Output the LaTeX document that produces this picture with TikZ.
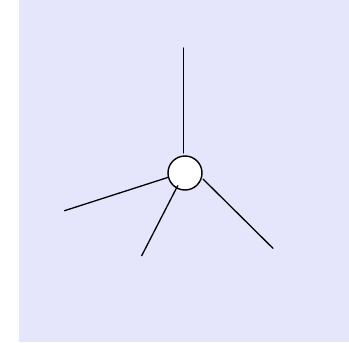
\documentclass[tikz,border=0pt]{standalone}
\definecolor{lavbg}{HTML}{E5E5FB}
\tikzset{hub/.style={circle,draw,line width=1.4pt,fill=white,minimum size=34pt,inner sep=0pt},
	spoke/.style={line width=1.3pt}}
\begin{document}
\begin{tikzpicture}[>=stealth,line join=round,line cap=round,x=1pt,y=-1pt]
	%========================
	\useasboundingbox (0,0) rectangle (349,343);
	\fill[lavbg] (19,0) rectangle (349,342);
	\node[hub] (hub) at (185,173) {};
	\coordinate (top) at (183.7,48);
	\coordinate (topin) at (183.7,153);
	\coordinate (left) at (64.5,210.7);
	\coordinate (leftin) at (168.3,177.3);
	\coordinate (low) at (141.7,255.7);
	\coordinate (lowin) at (177.7,185.7);
	\coordinate (right) at (273,248.3);
	\coordinate (rightin) at (203,179);
	\draw[spoke] (topin) -- (top);
	\draw[spoke] (leftin) -- (left);
	\draw[spoke] (lowin) -- (low);
	\draw[spoke] (rightin) -- (right);
	%========================
\end{tikzpicture}
\end{document}
